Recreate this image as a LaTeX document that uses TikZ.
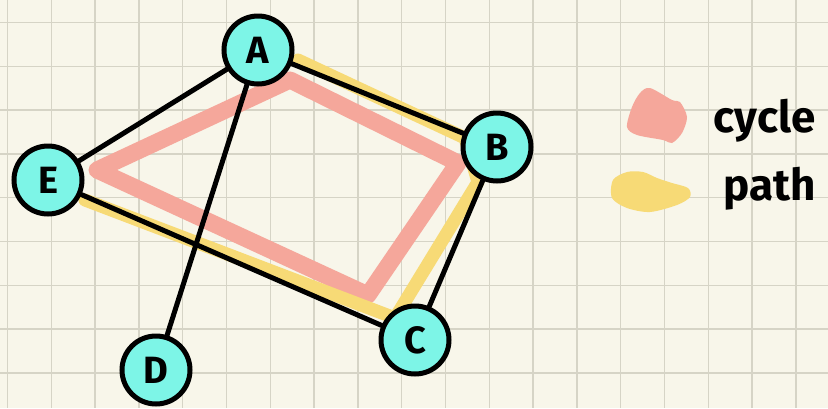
\documentclass[tikz,border=0pt]{standalone}
\usepackage{fontspec}
\setmainfont{Fira Sans}
\usetikzlibrary{positioning}
\definecolor{paper}{HTML}{F8F6EA}
\definecolor{gridgray}{HTML}{D6D4C6}
\definecolor{vtxcyan}{HTML}{7DF5E7}
\definecolor{cyclepink}{HTML}{F5A79B}
\definecolor{pathyellow}{HTML}{F7DA76}

\begin{document}
\begin{tikzpicture}[x=1pt, y=-1pt,
    vertex/.style={circle, draw=black, fill=vtxcyan, line width=5pt, minimum size=68pt, inner sep=0pt, font=\fontsize{38}{40}\selectfont\bfseries},
    edge/.style={line width=5pt, line cap=round},
    cyclemark/.style={draw=cyclepink, line width=17pt, line cap=round, line join=round},
    pathmark/.style={draw=pathyellow, line width=13pt, line cap=round, line join=round},
    legendtext/.style={font=\fontsize{44}{48}\selectfont\bfseries, anchor=base west}]
    \useasboundingbox (0,0) rectangle (828,408);
    \fill[paper] (0,0) rectangle (828,408);

    % Squared paper
    \foreach \i in {0,...,18}
        \draw[gridgray, line width=1.4pt] (7.5+43.8*\i,0) -- (7.5+43.8*\i,408);
    \foreach \j in {0,...,8}
        \draw[gridgray, line width=1.4pt] (0,22.5+43.8*\j) -- (828,22.5+43.8*\j);

    % Highlight corners
    \coordinate (cA) at (290,80);
    \coordinate (cB) at (458,163);
    \coordinate (cC) at (368,295);
    \coordinate (cE) at (97,170);
    \coordinate (pA) at (298,60);
    \coordinate (pB1) at (465,138);
    \coordinate (pB2) at (478,182);
    \coordinate (pC) at (395,318);
    \coordinate (pE) at (85,200);

    % Cycle and path highlights
    \draw[cyclemark] (cA) -- (cB) -- (cC) -- (cE) -- cycle;
    \draw[pathmark] (pA) -- (pB1) -- (pB2) -- (pC) -- (pE);

    % Vertices
    \node[vertex] (A) at (258,50) {A};
    \node[vertex] (B) at (497,147) {B};
    \node[vertex] (C) at (415,340) {C};
    \node[vertex] (D) at (156,370) {D};
    \node[vertex] (E) at (48,180) {E};

    % Edges
    \draw[edge] (A) -- (B);
    \draw[edge] (A) -- (E);
    \draw[edge] (A) -- (D);
    \draw[edge] (E) -- (C);
    \draw[edge] (B) -- (C);

    % Legend
    \fill[cyclepink] plot[smooth cycle] coordinates {(650,88) (672,100) (680,102) (687,117) (682,133) (672,143) (663,140) (637,135) (627,127) (632,107) (640,93)};
    \fill[pathyellow] plot[smooth cycle] coordinates {(613,180) (627,172) (643,172) (657,178) (672,183) (688,188) (690,197) (677,205) (650,212) (627,208) (612,198)};
    \node[legendtext] (cyclelbl) at (710,132) {cycle};
    \node[legendtext] (pathlbl) at (720,200) {path};
\end{tikzpicture}
\end{document}
